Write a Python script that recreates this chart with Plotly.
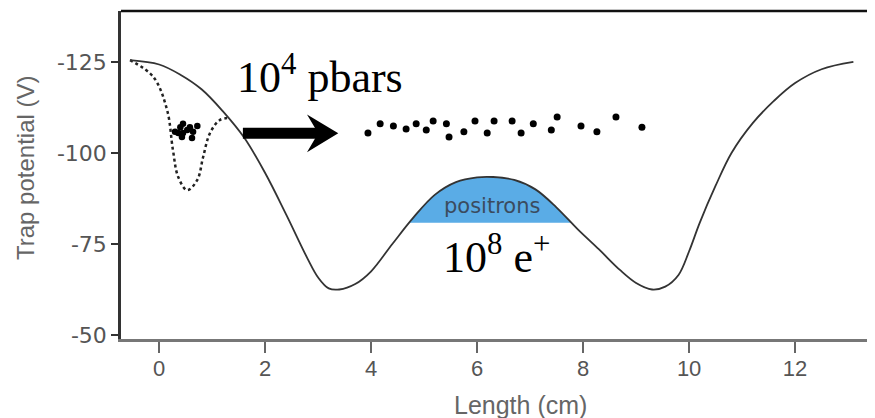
import plotly.graph_objects as go

# ---- data (cm, V) ----
trap_x = [-0.55, 0.0, 0.4, 0.8, 1.2, 1.6, 2.0, 2.4, 2.8, 3.0, 3.2, 3.4, 3.7, 4.0, 4.4, 4.8, 5.2, 5.6,
          6.0, 6.3, 6.7, 7.1, 7.5, 7.9, 8.3, 8.7, 9.0, 9.3, 9.55, 9.8, 10.0, 10.2, 10.5, 10.8, 11.2,
          11.6, 12.0, 12.5, 13.1]
trap_v = [-125.5, -124.3, -121.5, -117.5, -111.5, -104.3, -94.5, -83.0, -71.0, -65.8, -62.8, -62.5, -64.0,
          -67.5, -75.0, -82.3, -88.5, -92.0, -93.3, -93.4, -92.6, -90.0, -85.0, -79.0, -73.5, -67.8,
          -64.3, -62.5, -63.3, -66.5, -73.0, -80.8, -91.0, -100.0, -108.2, -114.3, -119.2, -123.0, -125.0]

inject_x = [-0.55, -0.11, 0.15, 0.26, 0.36, 0.53, 0.72, 0.83, 0.96, 1.15, 1.34]
inject_v = [-125.5, -120.9, -111.8, -100.8, -93.4, -89.8, -92.6, -98.9, -105.5, -109.1, -109.6]

positron_x = [4.72, 4.8, 5.2, 5.6, 6.0, 6.3, 6.7, 7.1, 7.5, 7.77]
positron_top = [-80.8, -82.3, -88.5, -92.0, -93.3, -93.4, -92.6, -90.0, -85.0, -80.8]
positron_level = -80.8

cluster_x = [0.30, 0.40, 0.45, 0.53, 0.43, 0.58, 0.64, 0.72, 0.62, 0.45, 0.36]
cluster_v = [-105.8, -107.1, -108.0, -106.3, -104.4, -107.1, -105.8, -107.4, -104.1, -105.5, -105.5]

pbar_x = [3.94, 4.17, 4.42, 4.66, 4.85, 5.04, 5.17, 5.42, 5.47, 5.75, 5.96, 6.19, 6.32, 6.66, 6.83,
          7.06, 7.40, 7.51, 7.96, 8.26, 8.62, 9.11]
pbar_v = [-105.5, -108.0, -107.4, -106.6, -108.0, -106.3, -108.8, -108.0, -104.4, -105.8, -108.8, -105.5,
          -108.8, -108.8, -105.5, -108.0, -106.3, -109.9, -107.4, -105.8, -109.9, -107.1]

arrow_tail_x, arrow_notch_x, arrow_tip_x = 1.58, 3.0, 3.38
arrow_v = -105.4
arrow_barb_x, arrow_barb_top, arrow_barb_bot = 2.79, -110.6, -100.2

x_ticks = [0, 2, 4, 6, 8, 10, 12]
y_ticks = [-125, -100, -75, -50]

fig = go.Figure()

# positron fill
fig.add_trace(go.Scatter(x=[positron_x[0], positron_x[-1]], y=[positron_level, positron_level],
                         mode="lines", line=dict(width=0, color="rgba(0,0,0,0)"), hoverinfo="skip"))
fig.add_trace(go.Scatter(x=positron_x, y=positron_top, mode="lines", line=dict(width=0, shape="spline"),
                         fill="tonexty", fillcolor="#5aace6", hoverinfo="skip"))

fig.add_trace(go.Scatter(x=inject_x, y=inject_v, mode="lines",
                         line=dict(color="#222222", width=2.5, dash="dot", shape="spline", smoothing=1.0)))
fig.add_trace(go.Scatter(x=trap_x, y=trap_v, mode="lines",
                         line=dict(color="#333333", width=1.8, shape="spline", smoothing=1.0)))
fig.add_trace(go.Scatter(x=cluster_x, y=cluster_v, mode="markers",
                         marker=dict(color="black", size=6.5)))
fig.add_trace(go.Scatter(x=pbar_x, y=pbar_v, mode="markers",
                         marker=dict(color="black", size=7)))

# arrow
fig.add_shape(type="line", x0=arrow_tail_x, x1=arrow_notch_x + 0.05, y0=arrow_v, y1=arrow_v,
              line=dict(color="black", width=11), xref="x", yref="y")
fig.add_shape(type="path", xref="x", yref="y", fillcolor="black", line=dict(width=0),
              path=(f"M {arrow_tip_x} {arrow_v} L {arrow_barb_x} {arrow_barb_top} "
                    f"L {arrow_notch_x} {arrow_v} L {arrow_barb_x} {arrow_barb_bot} Z"))

# frame top and right
fig.add_shape(type="line", xref="paper", yref="paper", x0=0, x1=1, y0=1, y1=1,
              line=dict(color="#111111", width=2.5))
fig.add_shape(type="line", xref="paper", yref="paper", x0=1, x1=1, y0=0, y1=1,
              line=dict(color="#999999", width=1.5))

serif = "Liberation Serif, Times New Roman, serif"
fig.add_annotation(x=3.04, y=-121.5, xref="x", yref="y", text="10<sup>4</sup> pbars", showarrow=False,
                   font=dict(family=serif, size=44, color="black"), xanchor="center", yanchor="middle")
fig.add_annotation(x=6.36, y=-72.0, xref="x", yref="y", text="10<sup>8</sup> e<sup>+</sup>", showarrow=False,
                   font=dict(family=serif, size=44, color="black"), xanchor="center", yanchor="middle")
fig.add_annotation(x=6.28, y=-85.3, xref="x", yref="y", text="positrons", showarrow=False,
                   font=dict(family="DejaVu Sans", size=21, color="#3b4b5e"), xanchor="center", yanchor="middle")

fig.add_annotation(x=(25 - 121) / 752, y=(339 - 168) / 328, xref="paper", yref="paper",
                   text="Trap potential (V)", textangle=-90, showarrow=False,
                   font=dict(family="Liberation Sans, Arial", size=24, color="#666666"),
                   xanchor="center", yanchor="middle")
fig.add_annotation(x=(520 - 121) / 752, y=(339 - 405) / 328, xref="paper", yref="paper",
                   text="Length (cm)", showarrow=False,
                   font=dict(family="Liberation Sans, Arial", size=25, color="#666666"),
                   xanchor="center", yanchor="middle")

# page body has an 8px margin: size the figure so the plot area lands where the reference has it
fig.update_layout(
    width=867, height=410,
    margin=dict(l=113, r=2, t=3, b=79),
    paper_bgcolor="white", plot_bgcolor="white",
    showlegend=False,
    xaxis=dict(range=[-0.72, 13.47], tickvals=x_ticks, ticktext=[str(t) for t in x_ticks],
               showgrid=False, zeroline=False, showline=True, linecolor="#777777", linewidth=2.5,
               ticks="outside", ticklen=11, tickwidth=2, tickcolor="#666666", ticklabelstandoff=-3,
               tickfont=dict(family="Liberation Sans, Arial", size=22, color="#555555")),
    yaxis=dict(range=[-48.9, -139.0], tickvals=y_ticks, ticktext=[str(t) for t in y_ticks],
               showgrid=False, zeroline=False, showline=True, linecolor="#333333", linewidth=2.5,
               ticks="outside", ticklen=7, tickwidth=2, tickcolor="#333333",
               tickfont=dict(family="DejaVu Sans", size=22, color="#555555")),
)

fig.write_html("out.html")
